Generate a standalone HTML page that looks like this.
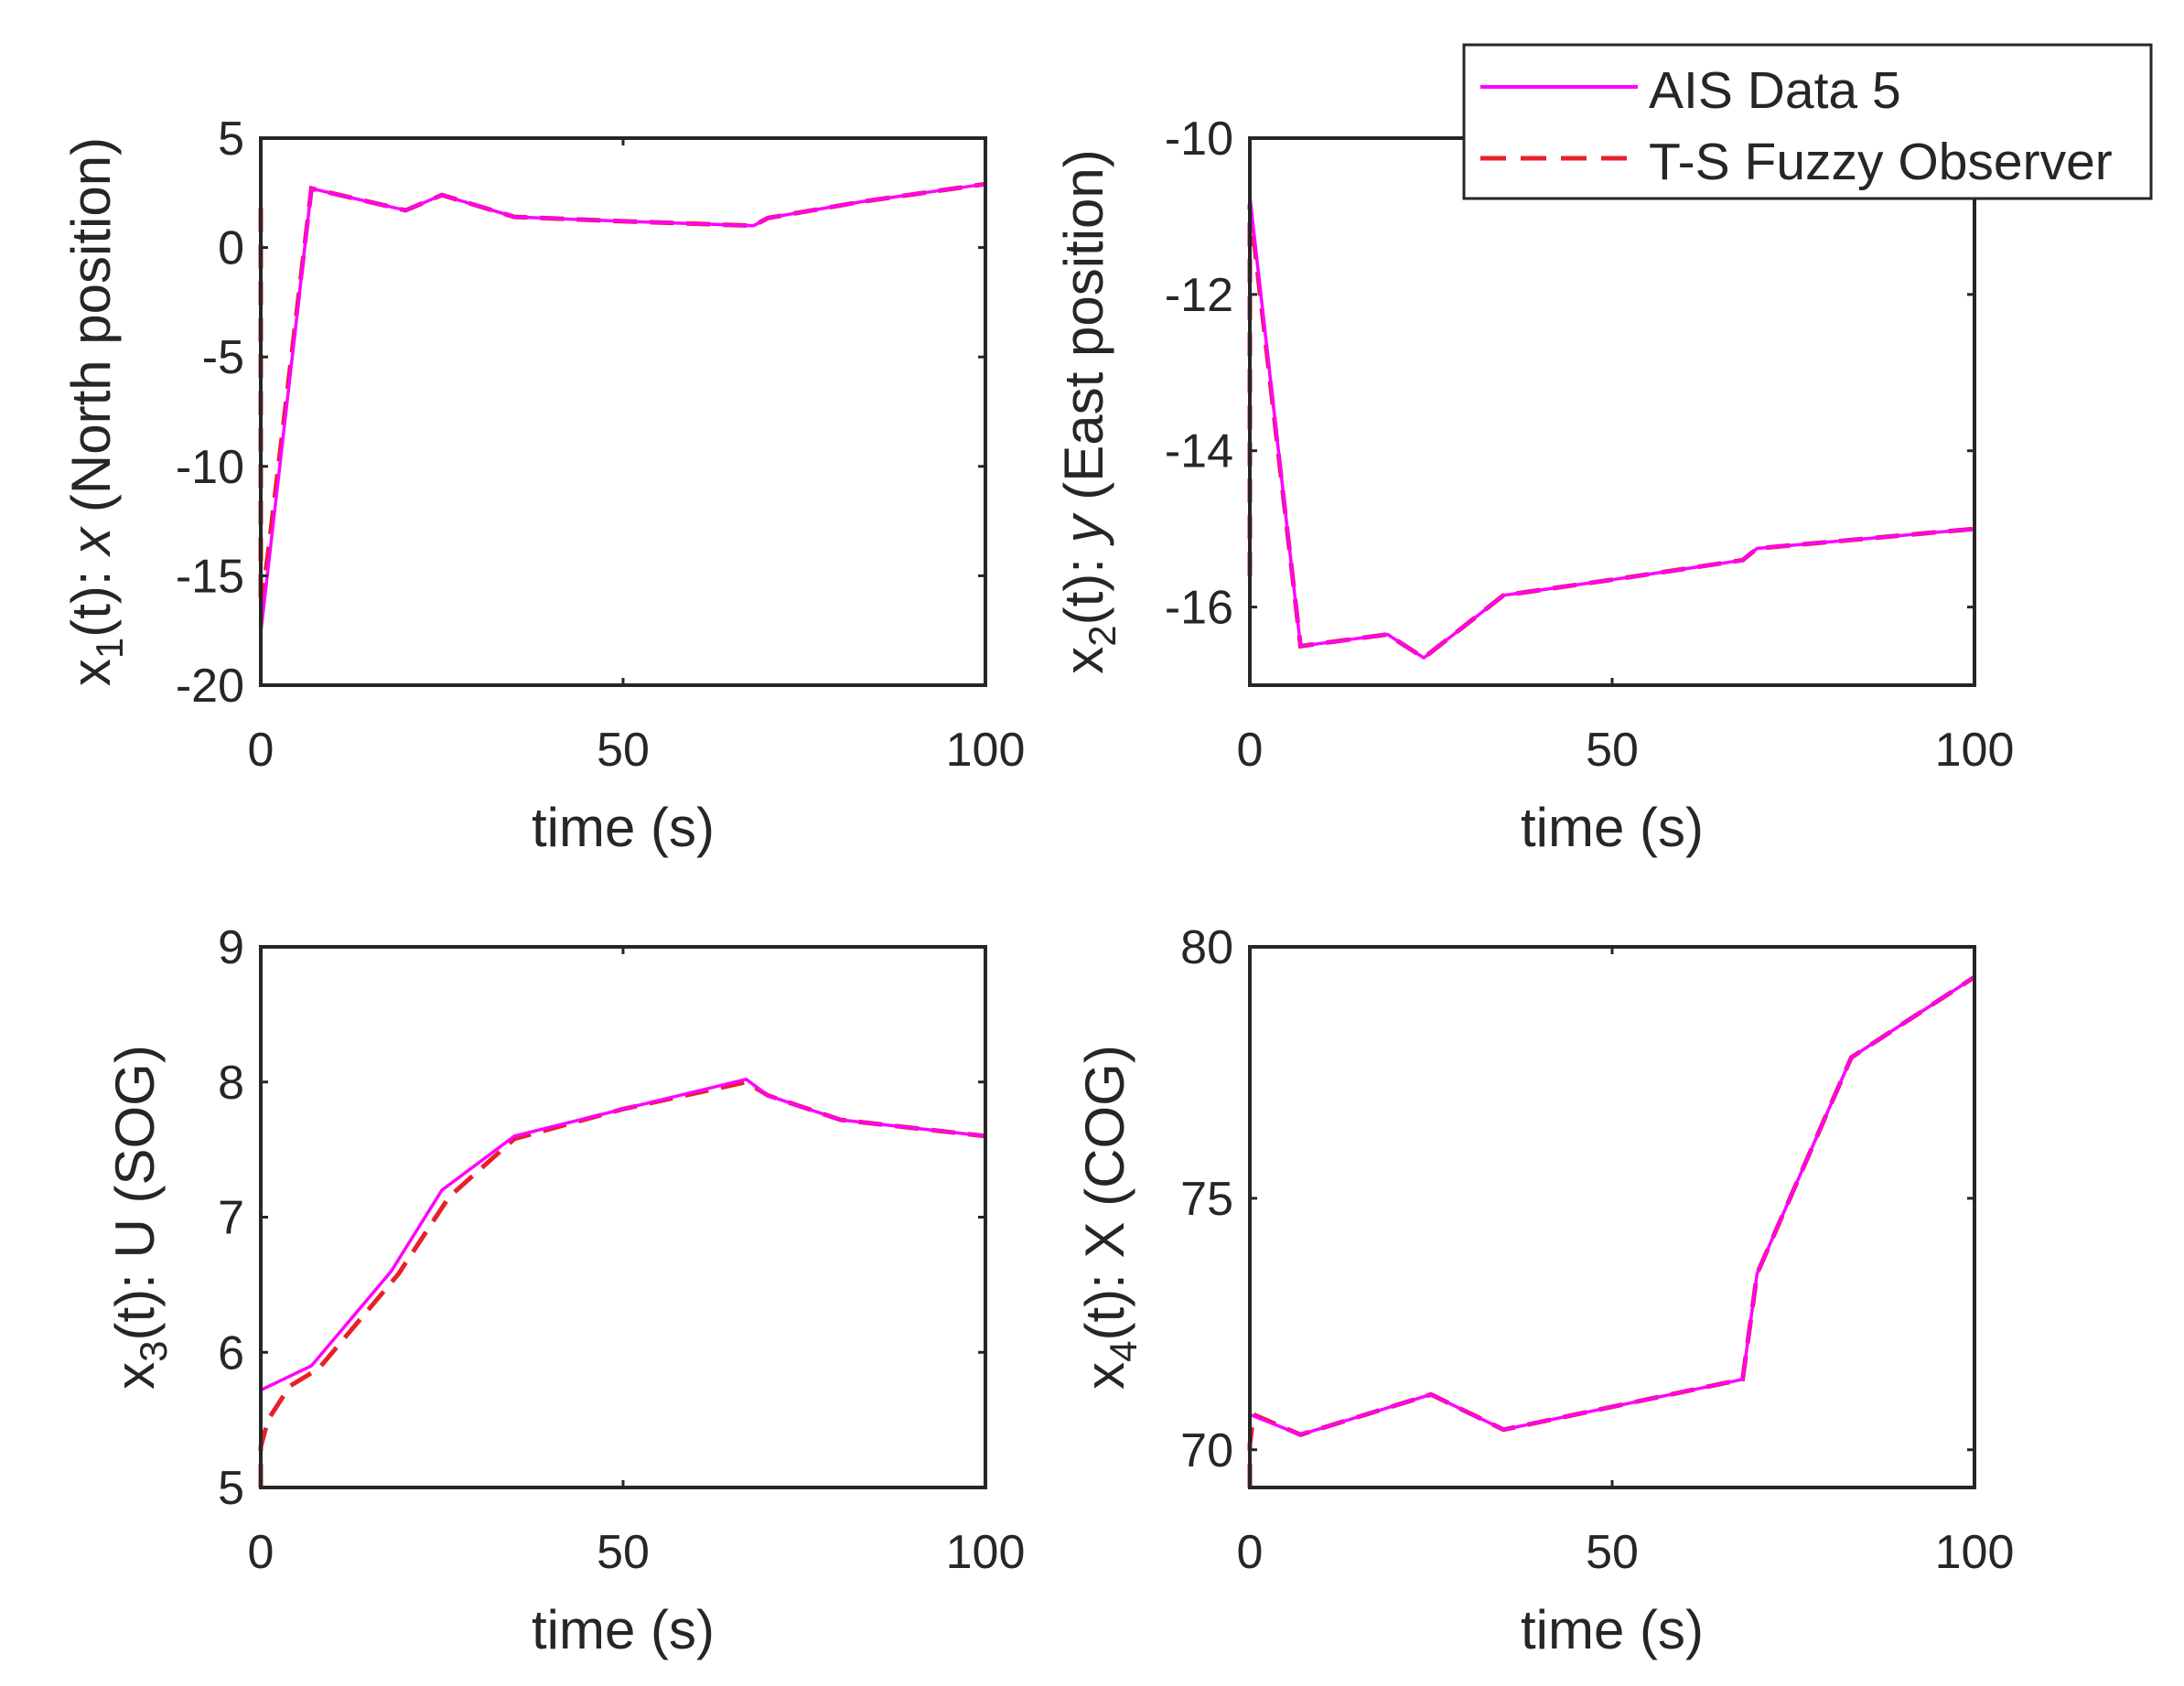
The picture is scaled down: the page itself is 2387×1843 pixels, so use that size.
<!DOCTYPE html>
<html><head><meta charset="utf-8"><style>
body{margin:0;background:#fff;}
svg{display:block;}
text{font-family:"Liberation Sans",Arial,sans-serif;fill:#262626;}
</style></head><body>
<svg id="s" width="2387" height="1843" xmlns="http://www.w3.org/2000/svg"></svg>
<script>
const S=document.getElementById('s');let h='';
function P(o){
 const {L,R,T,B,ymin,ymax,yt,lab,sub,labx,labT,ais,obs}=o;
 const X=v=>L+(R-L)*v/100, Y=v=>B-(B-T)*(v-ymin)/(ymax-ymin);
 h+=`<rect x="${L}" y="${T}" width="${R-L}" height="${B-T}" fill="#fff"/>`;
 const pts=a=>a.map(p=>X(p[0]).toFixed(1)+','+Y(p[1]).toFixed(1)).join(' ');
 h+=`<polyline points="${pts(obs)}" fill="none" stroke="#e8202a" stroke-width="5" stroke-dasharray="26,14"/>`;
 h+=`<polyline points="${pts(ais)}" fill="none" stroke="#ff00ff" stroke-width="3.5"/>`;
 h+=`<rect x="${L}" y="${T}" width="${R-L}" height="${B-T}" fill="none" stroke="#262626" stroke-width="4"/>`;
 [0,50,100].forEach(v=>{const x=X(v);
  h+=`<line x1="${x}" y1="${B}" x2="${x}" y2="${B-8}" stroke="#262626" stroke-width="3"/><line x1="${x}" y1="${T}" x2="${x}" y2="${T+8}" stroke="#262626" stroke-width="3"/>`;
  h+=`<text x="${x}" y="${B+88}" font-size="52" text-anchor="middle">${v}</text>`;});
 yt.forEach(v=>{const y=Y(v);
  h+=`<line x1="${L}" y1="${y}" x2="${L+8}" y2="${y}" stroke="#262626" stroke-width="3"/><line x1="${R}" y1="${y}" x2="${R-8}" y2="${y}" stroke="#262626" stroke-width="3"/>`;
  h+=`<text x="${L-18}" y="${y+18}" font-size="52" text-anchor="end">${v}</text>`;});
 h+=`<text x="${(L+R)/2}" y="${B+176}" font-size="60" text-anchor="middle">time (s)</text>`;
 const cy=(T+B)/2;
 h+=`<text transform="translate(${labx},${cy}) rotate(-90)" font-size="60" text-anchor="middle">x<tspan font-size="42" dy="14">${sub}</tspan><tspan dy="-14">${labT}</tspan></text>`;
}
P({L:285,R:1077,T:151,B:749,ymin:-20,ymax:5,yt:[5,0,-5,-10,-15,-20],sub:'1',labx:120,
 labT:'(t): <tspan font-style="italic">x</tspan> (North position)',
 ais:[[0,-17.6],[7,2.7],[20,1.7],[25,2.4],[35,1.4],[50,1.2],[68,1.0],[70,1.35],[83,2.1],[100,2.9]],
 obs:[[0,1.8],[0,-16.5],[1,-14],[7,2.7],[20,1.7],[25,2.4],[35,1.4],[50,1.2],[68,1.0],[70,1.35],[83,2.1],[100,2.9]]});
P({L:1366,R:2158,T:151,B:749,ymin:-17,ymax:-10,yt:[-10,-12,-14,-16],sub:'2',labx:1205,
 labT:'(t): <tspan font-style="italic">y</tspan> (East position)',
 ais:[[0,-10.75],[7,-16.5],[19,-16.35],[24,-16.65],[35,-15.85],[50,-15.65],[68,-15.4],[70,-15.25],[100,-15.0]],
 obs:[[0,-15.6],[0,-10.85],[7,-16.5],[19,-16.35],[24,-16.65],[35,-15.85],[50,-15.65],[68,-15.4],[70,-15.25],[100,-15.0]]});
P({L:285,R:1077,T:1035,B:1626,ymin:5,ymax:9,yt:[9,8,7,6,5],sub:'3',labx:168,
 labT:'(t): U (SOG)',
 ais:[[0,5.72],[7,5.9],[18,6.6],[25,7.2],[35,7.6],[50,7.8],[67,8.02],[70,7.9],[80,7.72],[100,7.6]],
 obs:[[0,5.0],[0,5.3],[1,5.5],[4,5.75],[8,5.88],[19,6.58],[26,7.15],[35,7.58],[50,7.8],[67,8.0],[70,7.9],[80,7.72],[100,7.6]]});
P({L:1366,R:2158,T:1035,B:1626,ymin:69.25,ymax:80,yt:[80,75,70],sub:'4',labx:1228,
 labT:'(t): X (COG)',
 ais:[[0,70.7],[7,70.3],[25,71.1],[35,70.4],[68,71.4],[70,73.5],[83,77.8],[100,79.4]],
 obs:[[0,69.25],[0,70.1],[0.5,70.7],[7,70.3],[25,71.1],[35,70.4],[68,71.4],[70,73.5],[83,77.8],[100,79.4]]});
h+=`<rect x="1600" y="49" width="751" height="168" fill="#fff" stroke="#262626" stroke-width="3"/>`;
h+=`<line x1="1618" y1="95" x2="1790" y2="95" stroke="#ff00ff" stroke-width="4"/>`;
h+=`<text x="1802" y="118" font-size="57">AIS Data 5</text>`;
h+=`<line x1="1618" y1="173" x2="1790" y2="173" stroke="#e8202a" stroke-width="5" stroke-dasharray="28,16"/>`;
h+=`<text x="1802" y="196" font-size="57">T-S Fuzzy Observer</text>`;
S.innerHTML=h;
</script>
</body></html>
